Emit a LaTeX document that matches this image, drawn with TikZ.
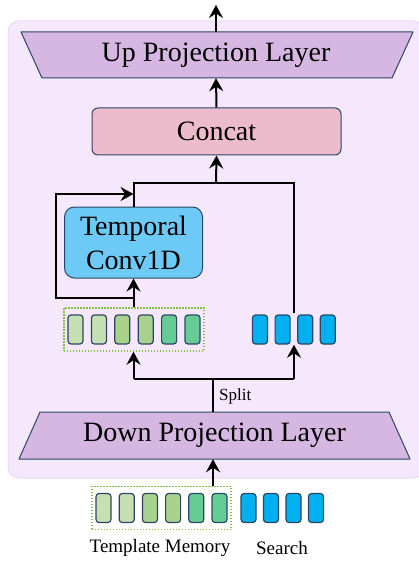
\documentclass[tikz,border=0pt]{standalone}
\usepackage{fontspec}
\setmainfont{Liberation Serif}
\usetikzlibrary{arrows.meta,fit,calc}

\definecolor{bgfill}{HTML}{F6E8FC}
\definecolor{bgedge}{HTML}{EED6F6}
\definecolor{edgec}{HTML}{2C4766}
\definecolor{projfill}{HTML}{D5B7E2}
\definecolor{catfill}{HTML}{ECBBCC}
\definecolor{convfill}{HTML}{6DC9F5}
\definecolor{gA}{HTML}{C6E0B4}
\definecolor{gB}{HTML}{A9D18E}
\definecolor{gC}{HTML}{66CC96}
\definecolor{tokblue}{HTML}{00B0F0}
\definecolor{dotgreen}{HTML}{86BD4F}

\tikzset{
  wire/.style={line width=2pt, black},
  arr/.style={wire, -{Stealth[length=13pt,width=14pt,inset=4.5pt]}},
  projshape/.style={fill=projfill, draw=edgec, line width=1pt, line join=round},
  projtext/.style={inner sep=0pt, font=\fontsize{28}{34}\selectfont},
  catbox/.style={fill=catfill, draw=edgec, line width=1pt, rounded corners=6pt,
    minimum width=249pt, minimum height=47pt, inner sep=0pt, font=\fontsize{28}{34}\selectfont},
  convbox/.style={fill=convfill, draw=edgec, line width=1pt, rounded corners=10pt,
    minimum width=138pt, minimum height=71pt, inner sep=0pt, align=center,
    font=\fontsize{28}{34}\selectfont},
  token/.style={draw=edgec, line width=1.2pt, rounded corners=3pt,
    minimum width=15pt, minimum height=29pt, inner sep=0pt},
  group/.style={draw=dotgreen, line width=1.3pt, dash pattern=on 1.3pt off 1.7pt,
    inner xsep=3.5pt, inner ysep=6.5pt},
  tight/.style={inner sep=0pt},
  lbl/.style={inner sep=0pt, font=\fontsize{19}{22}\selectfont},
}

\begin{document}
\begin{tikzpicture}[x=1pt, y=-1pt]
\useasboundingbox (0,0) rectangle (418,561);

% adapter panel
\filldraw[fill=bgfill, draw=bgedge, line width=1pt, rounded corners=11pt] (8,21) rectangle (424,478);

% up projection layer
\filldraw[projshape] (21,32) -- (413,32) -- (392,78) -- (42,78) -- cycle;
\node[projtext, minimum height=46pt] (upP) at (216,55) {Up Projection Layer};

% concat
\node[catbox] (concat) at (216.5,131.5) {Concat};

% temporal convolution
\node[convbox] (tconv) at (133.5,242.5) {Temporal\\Conv1D};

% token rows inside the panel
\foreach \i/\c in {0/gA,1/gA,2/gB,3/gB,4/gC,5/gC}
  \node[token, fill=\c] (gt\i) at ({75.5+23.4*\i},329.5) {};
\foreach \i in {0,...,3}
  \node[token, fill=tokblue] (bt\i) at ({260+22.6*\i},329.5) {};
\node[group, fit=(gt0)(gt5)] (gtop) {};
\node[tight, fit=(bt0)(bt3)] (btop) {};

% down projection layer
\filldraw[projshape] (40,412) -- (389,412) -- (410,459) -- (19,459) -- cycle;
\node[projtext, minimum height=47pt] (downP) at (214.5,435.5) {Down Projection Layer};

% input tokens
\foreach \i/\c in {0/gA,1/gA,2/gB,3/gB,4/gC,5/gC}
  \node[token, fill=\c] (gi\i) at ({103.5+23.2*\i},508) {};
\foreach \i in {0,...,3}
  \node[token, fill=tokblue] (bi\i) at ({248.5+22.5*\i},508) {};
\node[group, fit=(gi0)(gi5)] (gbot) {};
\node[tight, fit=(bi0)(bi3)] (bbot) {};

\node[lbl] (tmlbl) at (160,548) {Template Memory};
\node[lbl] (srlbl) at (282,548) {Search};

% connectors
\coordinate (out) at (216,5);
\coordinate (join) at (216,183);
\coordinate (sr) at (294,313);
\coordinate (res) at (133.5,298);
\coordinate (resl) at (56,194);
\coordinate (rend) at (133.5,194);
\coordinate (sp) at (213,379);
\coordinate (spl) at (133.5,379);
\coordinate (spr) at (294,379);

\draw[arr] (upP.north) -- (out);
\draw[arr] (concat.north) -- (upP.south);
\draw[wire] (tconv.north) |- (join) -| (sr);
\draw[arr] (join) -- (concat.south);
\draw[arr] (tconv.south |- gtop.north) -- (tconv.south);
\draw[arr, line join=miter] (res) -| (resl) -- (rend);
\draw[wire] (sp |- downP.north) -- (sp);
\draw[wire] (spl) -- (spr);
\draw[arr] (spl) -- (spl |- gtop.south);
\draw[arr] (spr) -- (spr |- btop.south);
\node[inner sep=0pt, anchor=west, font=\fontsize{17}{20}\selectfont] (split) at (219,396) {Split};
\draw[arr] (sp |- gbot.north) -- (sp |- downP.south);
\end{tikzpicture}
\end{document}
